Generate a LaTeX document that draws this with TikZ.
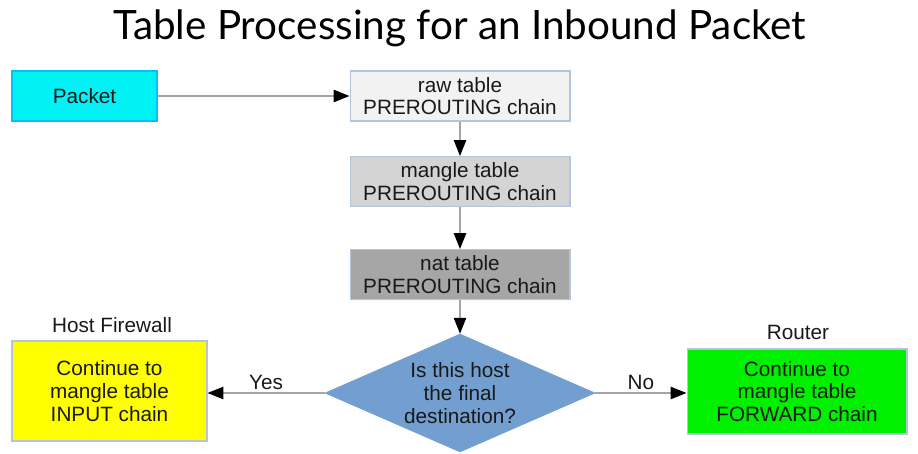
\documentclass[tikz,border=0pt]{standalone}
\usepackage{fontspec}
\setmainfont{Liberation Sans}
\newfontfamily\titelfont{Lato}
\usetikzlibrary{shapes.geometric, arrows.meta}

\definecolor{paketfarbe}{RGB}{0,242,245}
\definecolor{rawfarbe}{RGB}{242,242,242}
\definecolor{manglefarbe}{RGB}{212,212,212}
\definecolor{natfarbe}{RGB}{166,166,166}
\definecolor{rautenfarbe}{RGB}{114,159,207}
\definecolor{gelb}{RGB}{255,255,0}
\definecolor{gruen}{RGB}{0,240,0}
\definecolor{rahmen}{RGB}{180,196,218}
\definecolor{linie}{RGB}{165,165,165}

\tikzset{
    kasten/.style={draw=rahmen, line width=0.6pt, align=center, text=black!90,
        font=\fontsize{11.8}{12.8}\selectfont},
    tabelle/.style={kasten, minimum width=4.4cm, minimum height=1cm},
    beschriftung/.style={text=black!90, font=\fontsize{11.8}{13}\selectfont},
    pfeil/.style={draw=linie, line width=0.8pt,
        -{Triangle[length=9pt, width=7pt, color=black]}}
}

\begin{document}
\begin{tikzpicture}[x=0.02cm, y=-0.02cm]

  % Rahmen
  \useasboundingbox (0,0) rectangle (918,453);

  % Titel
  \node (titel) at (460,28) {\titelfont\fontsize{23}{27}\selectfont Table Processing for an Inbound Packet};

  % Paket und Tabellen
  \node[kasten, fill=paketfarbe, draw=paketfarbe!80!blue, minimum width=2.9cm, minimum height=1cm] (paket) at (84.5,96) {Packet};
  \node[tabelle, fill=rawfarbe] (raw) at (460,96) {raw table\\PREROUTING chain};
  \node[tabelle, fill=manglefarbe] (mangle) at (460,181.5) {mangle table\\PREROUTING chain};
  \node[tabelle, fill=natfarbe] (nat) at (460,274.5) {nat table\\PREROUTING chain};

  % Entscheidung
  \node[diamond, fill=rautenfarbe, draw=rautenfarbe, inner sep=0pt,
        minimum width=5.4cm, minimum height=2.36cm] (raute) at (460,393) {};
  \node[beschriftung, align=center] (frage) at (raute.center) {Is this host\\the final\\destination?};

  % Ziele
  \node[kasten, fill=gelb, minimum width=3.9cm, minimum height=2cm,
        font=\fontsize{11.8}{13}\selectfont] (input) at (109.5,391) {Continue to\\mangle table\\INPUT chain};
  \node[kasten, fill=gruen, minimum width=4.4cm, minimum height=1.7cm,
        font=\fontsize{11.8}{13}\selectfont] (forward) at (797,391.5) {Continue to\\mangle table\\FORWARD chain};

  \node[beschriftung] (host) at (112,325) {Host Firewall};
  \node[beschriftung] (router) at (798,332) {Router};

  % Pfeile
  \draw[pfeil] (paket) -- (raw);
  \draw[pfeil] (raw) -- (mangle);
  \draw[pfeil] (mangle) -- (nat);
  \draw[pfeil] (nat) -- (raute);
  \draw[pfeil] (raute.west) -- node[beschriftung, above=-2pt, pos=0.5] (ja) {Yes} (raute.west -| input.east);
  \draw[pfeil] (raute.east) -- node[beschriftung, above=-2pt, pos=0.5] (nein) {No} (raute.east -| forward.west);

\end{tikzpicture}
\end{document}
